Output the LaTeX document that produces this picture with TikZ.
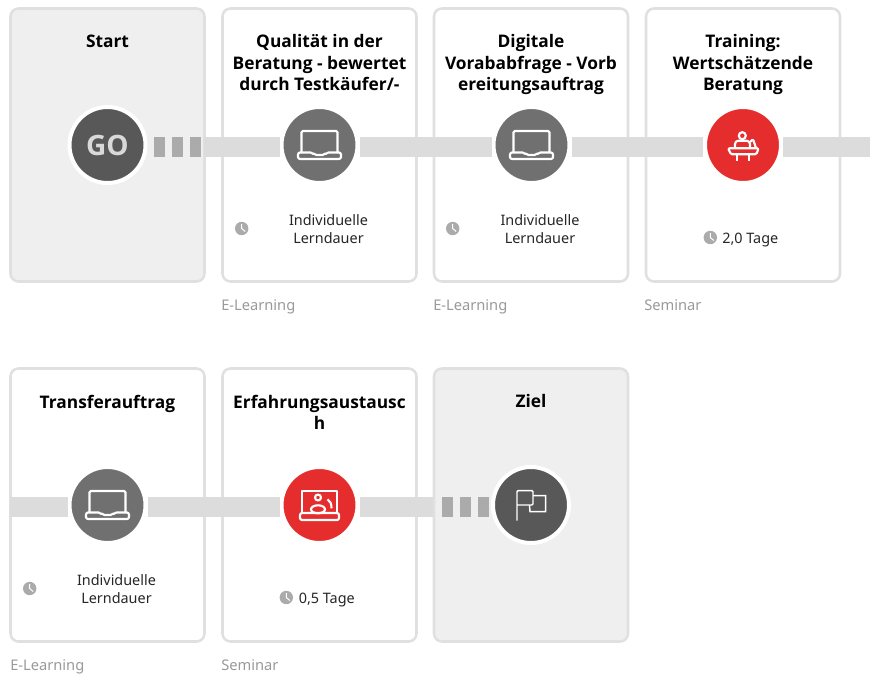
\documentclass[tikz,border=0pt]{standalone}
\usepackage{fontspec}
\setmainfont{Noto Sans}
\newfontfamily\headfont{Open Sans}
\usetikzlibrary{calc}
\definecolor{cardline}{HTML}{E0E0E0}
\definecolor{cardfill}{HTML}{EFEFEF}
\definecolor{barcol}{HTML}{DCDCDC}
\definecolor{dashcol}{HTML}{ABABAB}
\definecolor{darkdisc}{HTML}{585858}
\definecolor{greydisc}{HTML}{707070}
\definecolor{reddisc}{HTML}{E52D2D}
\definecolor{labelgrey}{HTML}{9A9A9A}
\definecolor{clockgrey}{HTML}{ABABAB}
\tikzset{
  x=0.75pt,y=-0.75pt,
  card/.style={draw=cardline,line width=1.9pt,rounded corners=6pt,fill=white,minimum width=145.5pt,minimum height=204.75pt,inner sep=0pt},
  endcard/.style={card,fill=cardfill},
  disc/.style={circle,draw=white,line width=3pt,minimum size=57pt,inner sep=0pt},
  startdisc/.style={disc,fill=darkdisc},
  eldisc/.style={disc,fill=greydisc},
  reddiscnode/.style={disc,fill=reddisc},
  bar/.style={draw=barcol,line width=15pt},
  dashbar/.style={draw=dashcol,line width=15pt,dash pattern=on 8pt off 5.5pt},
  titletext/.style={font=\fontsize{13}{16.1}\selectfont\headfont\bfseries,align=center,anchor=north,inner sep=0pt,text=black},
  bodytext/.style={font=\fontsize{10.8}{13.5}\selectfont,align=center,inner sep=0pt,text=black!85},
  typetext/.style={font=\fontsize{11}{13}\selectfont,anchor=base west,inner sep=0pt,text=labelgrey},
  icon/.style={draw=white,line width=1.6pt,line join=round},
  laptop/.pic={
    \draw[icon,rounded corners=1pt] (-18,8) -- (-18,-14) -- (18,-14) -- (18,8);
    \draw[icon,rounded corners=1.5pt] (-21.5,7.5) -- (-7,7.5) -- (-5,10) -- (5,10) -- (7,7.5) -- (21.5,7.5) -- (21.5,14) -- (-21.5,14) -- cycle;
  },
  seminaricon/.pic={
    \draw[icon] (-0.7,-9.3) circle[radius=3.5];
    \draw[icon,rounded corners=1pt] (-15,3.3) -- (15.7,3.3) -- (13.3,9.3) -- (-12,9.3) -- cycle;
    \draw[icon] (-5.7,9.3) -- (-5.7,15.7) (5.7,9.3) -- (5.7,15.7);
    \draw[icon,rounded corners=2.5pt] (-8,3.3) -- (-8,-4.3) -- (7,-4.3) -- (7,3.3);
    \draw[icon,rounded corners=1pt] (7,-3) -- (10,-6) -- (13,3);
  },
  webinaricon/.pic={
    \draw[icon] (-17.5,8) -- (-17.5,-14) -- (17.5,-14) -- (17.5,8);
    \draw[icon,rounded corners=1.5pt] (-19.5,8) -- (19.5,8) -- (19.5,15) -- (-19.5,15) -- cycle;
    \draw[icon] (-1.5,-7.5) circle[radius=3];
    \draw[icon] (-1.5,4.3) ellipse[x radius=7,y radius=4];
    \draw[icon] (8,-5.7) .. controls (11,-4) and (12,-1) .. (12,3.3);
  },
  flagicon/.pic={
    \draw[draw=white,line width=1.1pt,rounded corners=0.8pt] (-14,15.7) -- (-14,-14.3) -- (2,-14.3) -- (2,0) -- (-14,0);
    \draw[draw=white,line width=1.1pt] (2,-9.3) -- (14.7,-9.3) -- (14.7,6.7) -- (-1,6.7) -- (-1.5,0);
  },
  clockicon/.pic={
    \fill[clockgrey] (0,0) circle[radius=6.7];
    \draw[white,line width=0.75pt] (0,-4.5) -- (0,0) -- (3.5,3);
  }
}
\begin{document}
\begin{tikzpicture}
\useasboundingbox (0,0) rectangle (870,675);
\fill[white] (0,0) rectangle (870,675);
% cards
\node[endcard] (c1) at (107.5,145) {};
\node[card] (c2) at (319.5,145) {};
\node[card] (c3) at (531,145) {};
\node[card] (c4) at (743,145) {};
\node[card] (c5) at (107.5,505) {};
\node[card] (c6) at (319.5,505) {};
\node[endcard] (c7) at (531,505) {};
% titles
\node[titletext] (t1) at (107.5,34.5) {Start};
\node[titletext] (t2) at (319.5,34.5) {Qualität in der\\Beratung - bewertet\\durch Testkäufer/-};
\node[titletext] (t3) at (531,34.5) {Digitale\\Vorababfrage - Vorb\\ereitungsauftrag};
\node[titletext] (t4) at (743,34.5) {Training:\\Wertschätzende\\Beratung};
\node[titletext] (t5) at (107.5,394.5) {Transferauftrag};
\node[titletext] (t6) at (319.5,394.5) {Erfahrungsaustausc\\h};
\node[titletext] (t7) at (531,394.5) {Ziel};
% discs
\node[startdisc,font=\fontsize{21}{21}\selectfont\headfont\bfseries,text=white!85!black] (go) at (107.5,145) {GO};
\node[eldisc] (q) at (319.5,145) {};
\node[eldisc] (d) at (531.5,145) {};
\node[reddiscnode] (tr) at (743,145) {};
\node[eldisc] (ta) at (107.5,505) {};
\node[reddiscnode] (ex) at (319.5,505) {};
\node[startdisc] (zi) at (531,505) {};
% connectors
\coordinate (dash1) at (204,147);
\coordinate (dash1s) at (154,147);
\coordinate (dash2) at (433,507);
\coordinate (dash2e) at (489,507);
\coordinate (dash2s) at (442,507);
\coordinate (right1) at (870,147);
\coordinate (left2) at (10,507);
\draw[dashbar] (dash1s) -- (dash1);
\draw[bar] (dash1) -- ([yshift=-1.5pt]q.west);
\draw[bar] ([yshift=-1.5pt]q.east) -- ([yshift=-1.5pt]d.west);
\draw[bar] ([yshift=-1.5pt]d.east) -- ([yshift=-1.5pt]tr.west);
\draw[bar] ([yshift=-1.5pt]tr.east) -- (right1);
\draw[bar] (left2) -- ([yshift=-1.5pt]ta.west);
\draw[bar] ([yshift=-1.5pt]ta.east) -- ([yshift=-1.5pt]ex.west);
\draw[bar] ([yshift=-1.5pt]ex.east) -- (dash2);
\draw[dashbar] (dash2s) -- (dash2e);
% icons
\pic at (q) {laptop};
\pic at (d) {laptop};
\pic at (ta) {laptop};
\pic at (tr) {seminaricon};
\pic at (ex) {webinaricon};
\pic at (zi) {flagicon};
% clocks
\pic at (241.7,228.5) {clockicon};
\pic at (452.7,228.5) {clockicon};
\pic at (29.7,588.5) {clockicon};
\pic at (710.3,237.5) {clockicon};
\pic at (286.3,597.5) {clockicon};
% body
\node[bodytext] (b2) at (328.5,229.5) {Individuelle\\Lerndauer};
\node[bodytext] (b3) at (540,229.5) {Individuelle\\Lerndauer};
\node[bodytext,anchor=base west] (b4) at (722,243) {2,0 Tage};
\node[bodytext] (b5) at (116.5,589.5) {Individuelle\\Lerndauer};
\node[bodytext,anchor=base west] (b6) at (298.5,603) {0,5 Tage};
% types
\node[typetext] (l2) at (221,310) {E-Learning};
\node[typetext] (l3) at (433,310) {E-Learning};
\node[typetext] (l4) at (644,310) {Seminar};
\node[typetext] (l5) at (10,670) {E-Learning};
\node[typetext] (l6) at (221,670) {Seminar};
\end{tikzpicture}
\end{document}
